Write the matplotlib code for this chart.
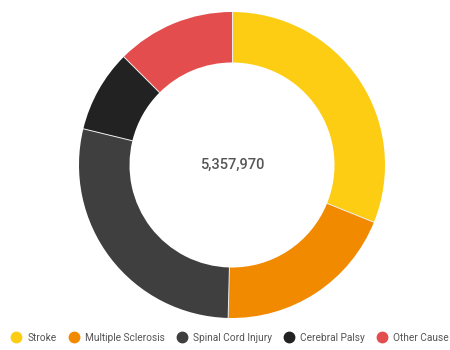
import matplotlib.pyplot as plt
from matplotlib.lines import Line2D
import numpy as np

causes = ["Stroke", "Multiple Sclerosis", "Spinal Cord Injury", "Cerebral Palsy", "Other Cause"]
shares = [31.1, 19.3, 28.4, 8.7, 12.5]
colors = ["#FDCD14", "#F28A00", "#3F3F3F", "#222222", "#E34D4D"]
total_label = "5,357,970"

plt.rcParams['font.family'] = ['Roboto', 'DejaVu Sans']

fig = plt.figure(figsize=(4.5, 3.5), dpi=100)
# ring centre at (232,165) px, outer radius 153 px
ax = fig.add_axes([79 / 450, 32 / 350, 306 / 450, 306 / 350])
wedges, _ = ax.pie(shares, colors=colors, startangle=90, counterclock=False, radius=1,
                   wedgeprops=dict(width=0.33, edgecolor="none"))
# thin light separators between the segments only
bounds = 90 - np.cumsum([0] + shares[:-1]) / sum(shares) * 360
for a in np.deg2rad(bounds):
    ax.plot([0.67 * np.cos(a), np.cos(a)], [0.67 * np.sin(a), np.sin(a)],
            color="#eeeeee", linewidth=0.7)
ax.set_xlim(-1, 1)
ax.set_ylim(-1, 1)
ax.set_aspect("auto")
ax.axis("off")

ax.text(0, 0, total_label, ha="center", va="center", fontsize=10.5,
        color="#555555", fontweight="medium")

# legend along the bottom
handles = [Line2D([], [], marker="o", linestyle="", markersize=7.5,
                  markerfacecolor=c, markeredgecolor=c) for c in colors]
fig.legend(handles, causes, loc="center", bbox_to_anchor=(0.51, 12 / 350),
           ncol=5, frameon=False, fontsize=7.3, labelcolor="#555555",
           handletextpad=0.5, columnspacing=1.1, handlelength=1.2,
           borderaxespad=0, borderpad=0)

fig.savefig("out.png", dpi=100)
